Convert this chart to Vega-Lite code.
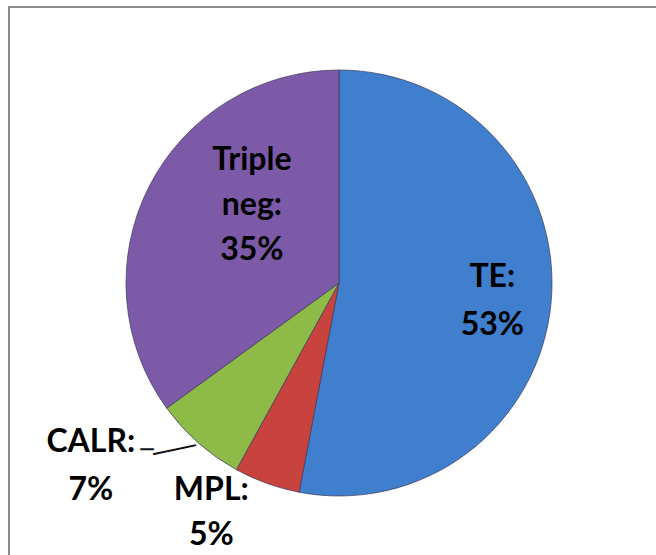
{
  "$schema": "https://vega.github.io/schema/vega-lite/v6.json",
  "width": 660,
  "height": 552,
  "padding": {"left": 9, "top": 7, "right": 0, "bottom": 0},
  "autosize": {"type": "none"},
  "background": "white",
  "view": {"stroke": "#8c8c8c", "strokeWidth": 2},
  "config": {"view": {"stroke": "#8c8c8c", "strokeWidth": 2}},
  "data": {"values": [
    {"cat": "TE", "value": 53, "ord": 1, "label": ["TE:", "53%"]},
    {"cat": "MPL", "value": 5, "ord": 2, "label": ["MPL:", "5%"]},
    {"cat": "CALR", "value": 7, "ord": 3, "label": ["CALR:", "7%"]},
    {"cat": "Triple neg", "value": 35, "ord": 4, "label": ["Triple", "neg:", "35%"]}
  ]},
  "encoding": {
    "theta": {"field": "value", "type": "quantitative", "stack": true},
    "order": {"field": "ord", "type": "quantitative"}
  },
  "layer": [
    {
      "mark": {"type": "arc", "outerRadius": 213, "stroke": "#3a3a5a", "strokeWidth": 0.7},
      "encoding": {
        "color": {"field": "cat", "type": "nominal", "legend": null,
          "scale": {"domain": ["TE", "MPL", "CALR", "Triple neg"], "range": ["#3f7fce", "#c8423e", "#8ebb48", "#7d5aa8"]}}
      }
    },
    {
      "mark": {"type": "text", "radius": 154, "dy": -20, "font": "Lato", "fontWeight": "bold", "fontSize": 32, "lineHeight": 48, "align": "center", "baseline": "middle", "color": "black"},
      "encoding": {"detail": {"field": "cat"}, "text": {"condition": {"test": "datum.cat === 'TE'", "field": "label"}, "value": ""}}
    },
    {
      "mark": {"type": "text", "radius": 100, "dx": 2, "dy": -78, "font": "Lato", "fontWeight": "bold", "fontSize": 32, "lineHeight": 45, "align": "center", "baseline": "middle", "color": "black"},
      "encoding": {"detail": {"field": "cat"}, "text": {"condition": {"test": "datum.cat === 'Triple neg'", "field": "label"}, "value": ""}}
    },
    {
      "mark": {"type": "text", "radius": 280, "dx": -63, "dy": -51, "font": "Lato", "fontWeight": "bold", "fontSize": 32, "lineHeight": 48, "align": "center", "baseline": "middle", "color": "black"},
      "encoding": {"detail": {"field": "cat"}, "text": {"condition": {"test": "datum.cat === 'CALR'", "field": "label"}, "value": ""}}
    },
    {
      "mark": {"type": "text", "radius": 250, "dx": -43, "dy": -28, "font": "Lato", "fontWeight": "bold", "fontSize": 32, "lineHeight": 45, "align": "center", "baseline": "middle", "color": "black"},
      "encoding": {"detail": {"field": "cat"}, "text": {"condition": {"test": "datum.cat === 'MPL'", "field": "label"}, "value": ""}}
    },
    {
      "mark": {"type": "text", "radius": 215, "dx": -23, "dy": 2, "angle": 348, "font": "DejaVu Sans", "fontSize": 24, "align": "center", "baseline": "middle", "color": "#111"},
      "encoding": {"detail": {"field": "cat"}, "text": {"condition": {"test": "datum.cat === 'CALR'", "value": "───"}, "value": ""}}
    },
    {
      "mark": {"type": "text", "radius": 215, "dx": -50, "dy": 6, "font": "DejaVu Sans", "fontSize": 22, "align": "center", "baseline": "middle", "color": "#111"},
      "encoding": {"detail": {"field": "cat"}, "text": {"condition": {"test": "datum.cat === 'CALR'", "value": "─"}, "value": ""}}
    }
  ]
}
